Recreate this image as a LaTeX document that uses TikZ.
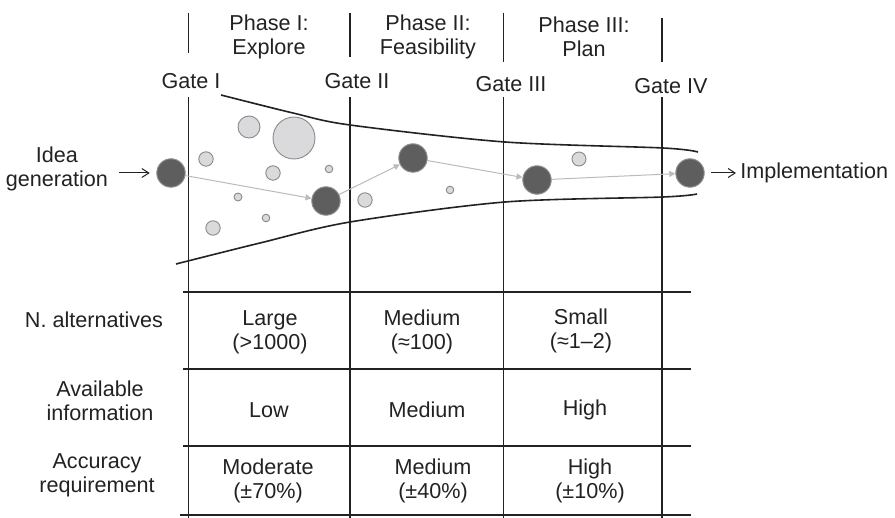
\documentclass[tikz,border=0pt]{standalone}
\usepackage{fontspec}
\setmainfont{Liberation Sans}
\usetikzlibrary{arrows.meta,positioning}

\definecolor{ink}{HTML}{222222}
\definecolor{dotdark}{HTML}{5E5E5E}
\definecolor{dotedge}{HTML}{8E8E8E}
\definecolor{bubblefill}{HTML}{DADADC}
\definecolor{bubbleedge}{HTML}{8A8A8A}
\definecolor{flowgray}{HTML}{BBBBBB}

\tikzset{
  lbl/.style={text=ink, font=\fontsize{10.8}{12}\selectfont, align=center},
  rule/.style={draw=ink, line width=0.7pt},
  funnel/.style={draw=ink, line width=0.8pt},
  bigdot/.style={circle, fill=dotdark, draw=dotedge, line width=0.5pt,
                 minimum size=14.2pt, inner sep=0pt},
  bubble/.style={fill=bubblefill, draw=bubbleedge, line width=0.45pt},
  flow/.style={draw=flowgray, line width=0.5pt, -{Triangle[length=3pt,width=3pt]}},
  lead/.style={draw=ink, line width=0.5pt, -{Straight Barb[length=3.5pt,width=4.5pt]}}
}

\begin{document}
\begin{tikzpicture}[x=0.5pt,y=-0.5pt]
    \useasboundingbox (0,0) rectangle (895,518);
    % --- phases and gates ---
    \node[lbl] (ph1) at (269,37) {Phase I:\\Explore};
    \node[lbl] (ph2) at (428,37) {Phase II:\\Feasibility};
    \node[lbl] (ph3) at (584,37) {Phase III:\\Plan};
    \node[lbl] (g1) at (191,81) {Gate I};
    \node[lbl] (g2) at (357,81) {Gate II};
    \node[lbl] (g3) at (511,84) {Gate III};
    \node[lbl] (g4) at (671,86) {Gate IV};
    \foreach \gx/\ta/\tb in {188.5/12.7/53, 350/12.7/57, 503.5/12.7/62, 662/18/62}
      \draw[rule] (\gx,\ta) -- (\gx,\tb) (\gx,97) -- (\gx,518);
    % --- funnel ---
    \draw[funnel] plot[smooth] coordinates
      {(221,95) (293,113) (350,125) (505,142) (663,148) (698,152)};
    \draw[funnel] plot[smooth] coordinates
      {(176,264) (260,243) (350,222) (505,202) (663,197) (697,194)};
    % --- dropped alternatives ---
    \foreach \bx/\by/\br in {249/127/5.5, 294/138/10.5, 206/159/3.6, 273/173/3.6,
                             329/169/1.9, 238/197/2, 266/218/1.9, 213/228/3.6,
                             365/200/3.6, 450/190/1.9, 579/159/3.5}
      \draw[bubble] (\bx,\by) circle[radius=\br pt];
    % --- selected path ---
    \node[bigdot] (d1) at (171,173) {};
    \node[bigdot] (d2) at (326,201) {};
    \node[bigdot] (d3) at (413,158) {};
    \node[bigdot] (d4) at (537,180) {};
    \node[bigdot] (d5) at (690,173) {};
    \draw[flow] (d1) -- (d2);
    \draw[flow] (d2) -- (d3);
    \draw[flow] (d3) -- (d4);
    \draw[flow] (d4) -- (d5);
    \node[lbl, anchor=east] (idea) at (115,169) {Idea\\generation};
    \draw[lead, shorten <=2pt, shorten >=3.3pt] (idea.east |- d1) -- (d1.west);
    \node[lbl, anchor=west, inner sep=2pt] (impl) at (736,173) {Implementation};
    \draw[lead, shorten <=3.2pt] (d5.east) -- (d5.east -| impl.west);
    % --- table ---
    \foreach \ry in {292,369,446}
      \draw[rule] (183,\ry) -- (691,\ry);
    \draw[rule] (180,515) -- (691,515);
    \node[lbl] (hdalt) at (94,320) {N. alternatives};
    \node[lbl] (hdinfo) at (100,401) {Available\\information};
    \node[lbl] (hdacc) at (97,475) {Accuracy\\requirement};
    \node[lbl] (alt1) at (270,332) {Large\\(>1000)};
    \node[lbl] (alt2) at (422,332) {Medium\\(≈100)};
    \node[lbl] (alt3) at (581,331) {Small\\(≈1–2)};
    \node[lbl] (info1) at (269,410) {Low};
    \node[lbl] (info2) at (427,410) {Medium};
    \node[lbl] (info3) at (585,410) {High};
    \node[lbl] (acc1) at (268,481) {Moderate\\(±70\%)};
    \node[lbl] (acc2) at (433,481) {Medium\\(±40\%)};
    \node[lbl] (acc3) at (590,481) {High\\(±10\%)};
\end{tikzpicture}
\end{document}
